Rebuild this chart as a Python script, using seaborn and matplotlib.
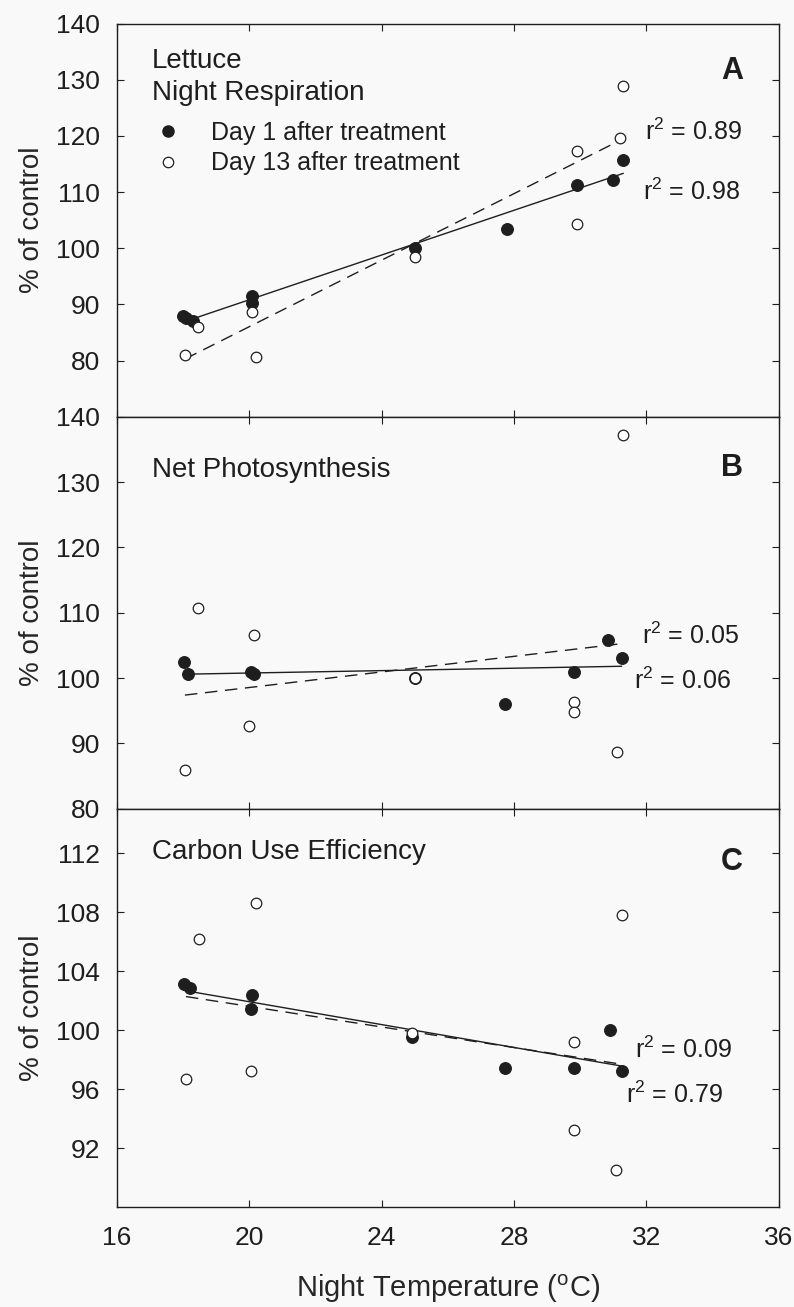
import matplotlib
matplotlib.use('Agg')
import matplotlib.pyplot as plt
import seaborn as sns
from matplotlib.lines import Line2D

# Values: night temperature (C) and % of control
# Panel A - night respiration
resp_temp_d1 = [18.0, 18.1, 18.3, 20.1, 20.1, 25.0, 27.8, 29.9, 31.0, 31.3]
resp_d1 = [88.0, 87.5, 87.0, 91.5, 90.3, 100.0, 103.5, 111.3, 112.2, 115.7]
resp_temp_d13 = [18.07, 18.47, 20.1, 20.2, 25.0, 29.9, 29.9, 31.2, 31.3]
resp_d13 = [81.0, 86.0, 88.6, 80.7, 98.5, 117.3, 104.3, 119.7, 128.8]

# Panel B - net photosynthesis
photo_temp_d1 = [18.02, 18.15, 20.07, 20.15, 25.0, 27.74, 29.8, 30.84, 31.25]
photo_d1 = [102.5, 100.6, 101.0, 100.7, 100.0, 96.0, 101.0, 105.9, 103.1]
photo_temp_d13 = [18.06, 18.46, 20.0, 20.15, 25.0, 29.8, 29.8, 31.1, 31.29]
photo_d13 = [86.0, 110.8, 92.6, 106.6, 100.0, 96.4, 94.8, 88.7, 137.2]

# Panel C - carbon use efficiency
cue_temp_d1 = [18.02, 18.2, 20.1, 20.05, 24.93, 27.74, 29.8, 30.9, 31.25]
cue_d1 = [103.1, 102.85, 102.4, 101.4, 99.5, 97.45, 97.45, 100.0, 97.25]
cue_temp_d13 = [18.09, 18.49, 20.2, 20.07, 24.93, 29.8, 29.8, 31.26, 31.08]
cue_d13 = [96.7, 106.2, 108.6, 97.2, 99.8, 99.2, 93.2, 107.8, 90.5]

panel_titles = [['Lettuce', 'Night Respiration'], ['Net Photosynthesis'],
                ['Carbon Use Efficiency']]
panel_letters = ['A', 'B', 'C']
r2_day13 = ['0.89', '0.05', '0.09']
r2_day1 = ['0.98', '0.06', '0.79']
legend_labels = ['Day 1 after treatment', 'Day 13 after treatment']
x_ticks = [16, 20, 24, 28, 32, 36]

INK = '#1e1e1e'
BG = '#f9f9f9'

sns.set_style('ticks')
plt.rcParams['font.family'] = ['Liberation Sans', 'DejaVu Sans']
plt.rcParams['mathtext.fontset'] = 'custom'
plt.rcParams['mathtext.rm'] = 'Liberation Sans'
plt.rcParams['text.color'] = INK


def draw_panel(ax, x1, y1, x13, y13):
    # regression lines first, then points on top
    sns.regplot(x=x1, y=y1, ax=ax, scatter=False, ci=None, truncate=True,
                line_kws=dict(color=INK, lw=1.0))
    sns.regplot(x=x13, y=y13, ax=ax, scatter=False, ci=None, truncate=True,
                line_kws=dict(color=INK, lw=1.0, linestyle=(0, (9, 5.5))))
    sns.scatterplot(x=x1, y=y1, ax=ax, color=INK, edgecolor=INK, s=72,
                    linewidth=0.8, zorder=3)
    sns.scatterplot(x=x13, y=y13, ax=ax, color='white', edgecolor=INK, s=58,
                    linewidth=0.9, zorder=4)


fig, axes = plt.subplots(3, 1, figsize=(7.94, 13.07), dpi=100, sharex=True,
                         gridspec_kw=dict(height_ratios=[393, 392, 398]))
fig.subplots_adjust(left=0.147, right=0.981, top=0.982, bottom=0.0765, hspace=0)
fig.patch.set_facecolor(BG)

data = [(resp_temp_d1, resp_d1, resp_temp_d13, resp_d13),
        (photo_temp_d1, photo_d1, photo_temp_d13, photo_d13),
        (cue_temp_d1, cue_d1, cue_temp_d13, cue_d13)]
ylims = [(70, 140), (80, 140), (88, 115)]
yticks = [range(80, 141, 10), range(80, 141, 10), range(92, 113, 4)]

# where the r^2 notes sit (data coords)
r2_pos13 = [(31.95, 120.8), (31.87, 106.4), (31.65, 98.65)]
r2_pos1 = [(31.88, 110.1), (31.62, 99.6), (31.38, 95.6)]
# baselines of the panel titles (axes fraction)
title_base = [[0.888, 0.806], [0.847], [0.874]]
letter_y = [0.88, 0.87, 0.867]

for i, ax in enumerate(axes):
    ax.set_facecolor(BG)
    draw_panel(ax, *data[i])
    ax.set_xlim(16, 36)
    ax.set_ylim(*ylims[i])
    ax.set_yticks(list(yticks[i]))
    ax.set_xticks(x_ticks)
    ax.tick_params(direction='in', top=True, right=True, length=5, width=0.8,
                   labelsize=19, colors=INK)
    ax.tick_params(axis='y', pad=12)
    ax.tick_params(axis='x', pad=14)
    for sp in ax.spines.values():
        sp.set_visible(True)
        sp.set_linewidth(1.0)
        sp.set_color(INK)
    ax.set_ylabel('% of control', fontsize=20)
    ax.yaxis.set_label_coords(-0.108, 0.5)
    ax.set_xlabel('')

    for line, yb in zip(panel_titles[i], title_base[i]):
        ax.text(0.053, yb, line, transform=ax.transAxes, fontsize=20,
                va='baseline', ha='left')
    ax.text(0.946, letter_y[i], panel_letters[i], transform=ax.transAxes,
            fontsize=22, fontweight='bold', ha='right', va='center')
    ax.text(*r2_pos13[i], r'r$\mathregular{^2}$ = ' + r2_day13[i],
            fontsize=18, ha='left', va='center')
    ax.text(*r2_pos1[i], r'r$\mathregular{^2}$ = ' + r2_day1[i],
            fontsize=18, ha='left', va='center')

handles = [Line2D([], [], marker='o', ls='', color=INK, markersize=8),
           Line2D([], [], marker='o', ls='', markerfacecolor='white',
                  markeredgecolor=INK, markersize=7.5, markeredgewidth=0.9)]
axes[0].legend(handles, legend_labels, loc='upper left',
               bbox_to_anchor=(0.04, 0.79), frameon=False, fontsize=18,
               handlelength=0.8, handletextpad=1.3, labelspacing=0.25,
               borderpad=0.1)

axes[2].set_xlabel(r'Night Temperature ($\mathregular{^o}$C)', fontsize=21,
                   labelpad=16)

plt.savefig('out.png', dpi=100, facecolor=BG)
